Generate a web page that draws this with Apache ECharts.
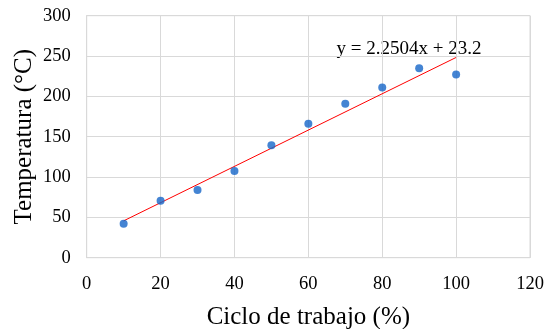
<!DOCTYPE html>
<html>
<head>
<meta charset="utf-8">
<script src="https://cdn.jsdelivr.net/npm/echarts@6/dist/echarts.min.js"></script>
<style>html,body{margin:0;padding:0;background:#fff}#c{width:555px;height:329px}</style>
</head>
<body>
<div id="c"></div>
<script>
var xValues = [10, 20, 30, 40, 50, 60, 70, 80, 90, 100];
var temperatures = [42, 70.5, 84, 107.5, 139.5, 166, 191, 211, 235, 227];
var trendSlope = 2.2504;
var trendIntercept = 23.2;
var trendX = [10, 100];
var equationText = 'y = 2.2504x + 23.2';
var xTitle = 'Ciclo de trabajo (%)';
var yTitle = 'Temperatura (°C)';

var FONT = 'Liberation Serif';
var chart = echarts.init(document.getElementById('c'), null, {renderer: 'canvas'});
var points = xValues.map(function (x, i) { return [x, temperatures[i]]; });
var trend = trendX.map(function (x) { return [x, trendSlope * x + trendIntercept]; });

chart.setOption({
  animation: false,
  backgroundColor: '#ffffff',
  grid: {left: 86.7, right: 25, top: 15.7, bottom: 71.3, show: true, borderColor: '#d9d9d9', borderWidth: 1,
         containLabel: false, outerBoundsMode: 'none'},
  xAxis: {
    type: 'value', min: 0, max: 120, interval: 20,
    name: xTitle, nameLocation: 'middle', nameGap: 47, nameMoveOverlap: false,
    nameTextStyle: {fontFamily: FONT, fontSize: 25, color: '#000'},
    axisLine: {show: true, lineStyle: {color: '#d9d9d9'}},
    axisTick: {show: false},
    axisLabel: {fontFamily: FONT, fontSize: 18.5, color: '#000', margin: 17},
    splitLine: {show: true, lineStyle: {color: '#d9d9d9', width: 1}}
  },
  yAxis: {
    type: 'value', min: 0, max: 300, interval: 50,
    name: yTitle, nameLocation: 'middle', nameGap: 50, nameMoveOverlap: false,
    nameTextStyle: {fontFamily: FONT, fontSize: 25, color: '#000'},
    axisLine: {show: true, lineStyle: {color: '#d9d9d9'}},
    axisTick: {show: false},
    axisLabel: {fontFamily: FONT, fontSize: 18.5, color: '#000', margin: 16},
    splitLine: {show: true, lineStyle: {color: '#d9d9d9', width: 1}}
  },
  series: [
    {
      type: 'line', data: trend, symbol: 'none',
      lineStyle: {color: '#ff0000', width: 1}, z: 2
    },
    {
      type: 'scatter', data: points, symbol: 'circle', symbolSize: 8,
      itemStyle: {color: '#1565c8'}, z: 3
    }
  ],
  graphic: [{
    type: 'text', left: 336.5, top: 40,
    style: {text: equationText, fontFamily: FONT, fontSize: 19, fill: '#000'}
  }]
});
</script>
</body>
</html>
